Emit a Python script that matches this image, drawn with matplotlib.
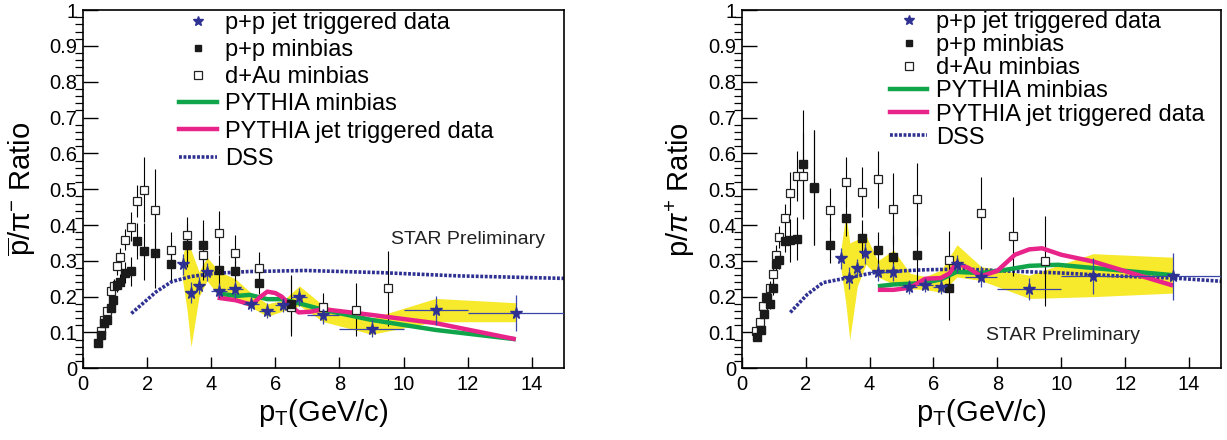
import matplotlib
matplotlib.use('Agg')
import matplotlib.pyplot as plt
from matplotlib.ticker import MultipleLocator, FuncFormatter

plt.rcParams['font.family'] = ['Liberation Sans', 'DejaVu Sans']
plt.rcParams['mathtext.fontset'] = 'custom'
plt.rcParams['mathtext.rm'] = 'Liberation Sans'
plt.rcParams['mathtext.it'] = 'Liberation Sans:italic'
plt.rcParams['mathtext.bf'] = 'Liberation Sans:bold'

# ---------------- left panel: pbar / pi- ----------------
pp_pt_l = [0.47, 0.56, 0.66, 0.75, 0.86, 0.95, 1.05, 1.15, 1.3, 1.5, 1.7, 1.9, 2.25, 2.75, 3.25, 3.75, 4.25, 4.75, 5.5, 6.5]
pp_y_l = [0.07, 0.094, 0.127, 0.135, 0.168, 0.19, 0.232, 0.242, 0.267, 0.271, 0.355, 0.327, 0.323, 0.292, 0.343, 0.343, 0.275, 0.273, 0.238, 0.18]
pp_e_l = [0.01, 0.01, 0.012, 0.012, 0.015, 0.015, 0.02, 0.02, 0.03, 0.04, 0.05, 0.08, 0.1, 0.045, 0.06, 0.07, 0.04, 0.03, 0.03, 0.08]

dau_pt_l = [0.55, 0.65, 0.75, 0.86, 0.96, 1.05, 1.15, 1.3, 1.5, 1.7, 1.9, 2.25, 2.75, 3.25, 3.75, 4.25, 4.75, 5.5, 6.5, 7.5, 8.5, 9.5]
dau_y_l = [0.103, 0.134, 0.16, 0.216, 0.23, 0.286, 0.312, 0.359, 0.395, 0.467, 0.499, 0.441, 0.33, 0.372, 0.316, 0.378, 0.322, 0.279, 0.17, 0.17, 0.164, 0.223]
dau_e_l = [0.01, 0.012, 0.015, 0.02, 0.02, 0.025, 0.025, 0.03, 0.04, 0.045, 0.09, 0.115, 0.05, 0.05, 0.07, 0.06, 0.05, 0.045, 0.08, 0.04, 0.075, 0.105]

jet_pt = [3.12, 3.37, 3.62, 3.87, 4.25, 4.75, 5.25, 5.75, 6.25, 6.75, 7.5, 9.0, 11.0, 13.5]
jet_xerr = [0.12, 0.12, 0.12, 0.12, 0.25, 0.25, 0.25, 0.25, 0.25, 0.25, 0.5, 1.0, 1.0, 1.5]
jet_y_l = [0.29, 0.211, 0.231, 0.27, 0.217, 0.22, 0.18, 0.161, 0.176, 0.198, 0.149, 0.111, 0.162, 0.155]
jet_e_l = [0.03, 0.03, 0.025, 0.025, 0.02, 0.025, 0.02, 0.02, 0.02, 0.025, 0.025, 0.025, 0.04, 0.05]

band_x_l = [3.1, 3.25, 3.37, 3.62, 3.87, 4.25, 4.75, 5.25, 5.75, 6.25, 6.75, 7.5, 9.0, 11.0, 13.5]
band_hi_l = [0.31, 0.36, 0.33, 0.27, 0.31, 0.27, 0.25, 0.21, 0.18, 0.19, 0.23, 0.175, 0.14, 0.195, 0.183]
band_lo_l = [0.25, 0.16, 0.06, 0.2, 0.245, 0.2, 0.19, 0.17, 0.145, 0.16, 0.175, 0.13, 0.095, 0.13, 0.13]

pyminb_x_l = [4.2, 4.8, 5.2, 5.75, 6.2, 6.8, 7.5, 9.0, 11.0, 13.5]
pyminb_y_l = [0.209, 0.202, 0.205, 0.193, 0.193, 0.18, 0.163, 0.135, 0.107, 0.081]

pyjet_x_l = [4.2, 4.76, 5.27, 5.5, 5.75, 6.0, 6.2, 6.5, 6.73, 7.1, 7.5, 9.0, 11.0, 13.5]
pyjet_y_l = [0.197, 0.19, 0.177, 0.197, 0.214, 0.21, 0.2, 0.172, 0.156, 0.158, 0.165, 0.149, 0.126, 0.081]

dss_x_l = [1.51, 2.29, 2.77, 3.36, 4.08, 5.15, 6.94, 9.3, 11.7, 15.0]
dss_y_l = [0.153, 0.214, 0.242, 0.256, 0.265, 0.27, 0.273, 0.267, 0.258, 0.251]

# ---------------- right panel: p / pi+ ----------------
pp_pt_r = [0.49, 0.59, 0.69, 0.79, 0.88, 0.98, 1.08, 1.18, 1.34, 1.52, 1.72, 1.92, 2.26, 2.76, 3.26, 3.77, 4.26, 4.75, 5.5, 6.5]
pp_y_r = [0.087, 0.108, 0.151, 0.195, 0.18, 0.225, 0.292, 0.302, 0.356, 0.357, 0.361, 0.57, 0.504, 0.345, 0.419, 0.364, 0.33, 0.311, 0.317, 0.225]
pp_e_r = [0.01, 0.01, 0.012, 0.015, 0.015, 0.02, 0.025, 0.025, 0.03, 0.06, 0.06, 0.15, 0.16, 0.05, 0.05, 0.05, 0.05, 0.06, 0.08, 0.09]

dau_pt_r = [0.45, 0.57, 0.66, 0.77, 0.87, 0.98, 1.08, 1.18, 1.34, 1.52, 1.72, 1.92, 2.26, 2.76, 3.26, 3.77, 4.26, 4.75, 5.5, 6.5, 7.49, 8.49, 9.5]
dau_y_r = [0.105, 0.128, 0.174, 0.2, 0.225, 0.263, 0.315, 0.367, 0.42, 0.488, 0.538, 0.538, 0.505, 0.442, 0.519, 0.493, 0.528, 0.445, 0.473, 0.303, 0.434, 0.369, 0.299]
dau_e_r = [0.01, 0.012, 0.015, 0.02, 0.02, 0.025, 0.03, 0.03, 0.04, 0.06, 0.07, 0.12, 0.16, 0.06, 0.07, 0.07, 0.08, 0.1, 0.1, 0.08, 0.1, 0.11, 0.125]

jet_y_r = [0.307, 0.252, 0.28, 0.321, 0.269, 0.268, 0.227, 0.233, 0.227, 0.292, 0.256, 0.222, 0.257, 0.257]
jet_e_r = [0.03, 0.03, 0.025, 0.03, 0.025, 0.025, 0.02, 0.02, 0.02, 0.025, 0.03, 0.03, 0.05, 0.065]

band_x_r = [3.1, 3.26, 3.38, 3.62, 3.89, 4.26, 4.75, 5.27, 5.75, 6.25, 6.74, 7.49, 9.0, 11.0, 13.5]
band_hi_r = [0.33, 0.43, 0.35, 0.36, 0.37, 0.30, 0.33, 0.265, 0.256, 0.275, 0.345, 0.284, 0.26, 0.32, 0.31]
band_lo_r = [0.28, 0.18, 0.08, 0.23, 0.29, 0.255, 0.235, 0.222, 0.22, 0.212, 0.255, 0.245, 0.195, 0.2, 0.21]

pyminb_x_r = [4.26, 4.75, 5.25, 5.74, 6.23, 6.72, 7.49, 8.2, 9.0, 9.9, 11.0, 13.5]
pyminb_y_r = [0.229, 0.234, 0.236, 0.239, 0.248, 0.269, 0.266, 0.274, 0.286, 0.289, 0.28, 0.26]

pyjet_x_r = [4.26, 4.75, 5.27, 5.74, 6.23, 6.5, 6.72, 7.1, 7.49, 8.0, 8.55, 9.0, 9.4, 10.0, 11.0, 13.5]
pyjet_y_r = [0.219, 0.219, 0.225, 0.25, 0.252, 0.265, 0.294, 0.28, 0.257, 0.272, 0.317, 0.332, 0.335, 0.317, 0.298, 0.231]

dss_x_r = [1.52, 2.05, 2.54, 3.28, 4.26, 5.74, 6.97, 8.2, 10.0, 11.9, 13.5, 15.0]
dss_y_r = [0.156, 0.206, 0.239, 0.252, 0.269, 0.275, 0.277, 0.272, 0.266, 0.257, 0.252, 0.243]

labels = ['p+p jet triggered data', 'p+p minbias', 'd+Au minbias',
          'PYTHIA minbias', 'PYTHIA jet triggered data', 'DSS']

YELLOW = '#f7e92b'
GREEN = '#10a54a'
PINK = '#e8238a'
BLUE = '#2e3192'


def draw_panel(ax, d, ylabel, legend_anchor, spacing, star_pos):
    ax.fill_between(d['bx'], d['blo'], d['bhi'], color=YELLOW, lw=0, zorder=1)
    ax.plot(d['dssx'], d['dssy'], color=BLUE, lw=2.6, ls=(0, (0.8, 0.45)), zorder=2)
    ax.errorbar(d['ppx'], d['ppy'], yerr=d['ppe'], fmt='none', ecolor='black', elinewidth=0.8, zorder=3)
    ax.errorbar(d['dx'], d['dy'], yerr=d['de'], fmt='none', ecolor='black', elinewidth=0.8, zorder=3)
    ax.plot(d['gx'], d['gy'], color=GREEN, lw=3.2, zorder=4, solid_capstyle='butt')
    ax.plot(d['px'], d['py'], color=PINK, lw=3.2, zorder=4.5, solid_capstyle='butt')
    ax.errorbar(jet_pt, d['jy'], xerr=jet_xerr, yerr=d['je'], fmt='none', ecolor='#3a45a8', elinewidth=0.9, zorder=5)
    h1, = ax.plot(jet_pt, d['jy'], ls='none', marker='*', ms=8.5, color=BLUE, mec=BLUE, zorder=6)
    h2, = ax.plot(d['ppx'], d['ppy'], ls='none', marker='s', ms=5.5, color='#1a1a1a', zorder=5.5)
    h3, = ax.plot(d['dx'], d['dy'], ls='none', marker='s', ms=6, mfc='white', mec='#222222', mew=0.9, zorder=5.2)
    hg, = ax.plot([], [], color=GREEN, lw=3.2)
    hp, = ax.plot([], [], color=PINK, lw=3.2)
    hd, = ax.plot([], [], color=BLUE, lw=2.6, ls=(0, (0.8, 0.45)))

    ax.set_xlim(0, 15)
    ax.set_ylim(0, 1)
    ax.xaxis.set_major_locator(MultipleLocator(2))
    ax.yaxis.set_major_locator(MultipleLocator(0.1))
    ax.yaxis.set_minor_locator(MultipleLocator(0.02))
    ax.yaxis.set_major_formatter(FuncFormatter(lambda v, p: '%g' % round(v, 1)))
    ax.tick_params(axis='both', direction='in', labelsize=14.5, width=1.0)
    ax.tick_params(axis='y', which='major', length=11, pad=4)
    ax.tick_params(axis='y', which='minor', length=6, width=0.9)
    ax.tick_params(axis='x', which='major', length=8, pad=5)
    for s in ax.spines.values():
        s.set_linewidth(1.2)
    ax.set_xlabel(r'p$_{\rm T}$(GeV/c)', fontsize=21, labelpad=2)
    ax.set_ylabel(ylabel, fontsize=21, labelpad=8)

    ax.legend([h1, h2, h3, hg, hp, hd], labels, loc='upper left',
              bbox_to_anchor=legend_anchor, bbox_transform=ax.transData,
              frameon=False, fontsize=17, handlelength=1.6, handletextpad=0.35,
              labelspacing=spacing, borderpad=0, borderaxespad=0, markerscale=0.9)
    ax.text(star_pos[0], star_pos[1], 'STAR Preliminary', fontsize=14, ha='left', va='center', color='#222222')


fig = plt.figure(figsize=(12.27, 4.4), dpi=100)
axl = fig.add_axes([0.0676, 0.163, 0.392, 0.814])
axr = fig.add_axes([0.6045, 0.163, 0.3906, 0.814])

left = dict(bx=band_x_l, bhi=band_hi_l, blo=band_lo_l, dssx=dss_x_l, dssy=dss_y_l,
            ppx=pp_pt_l, ppy=pp_y_l, ppe=pp_e_l, dx=dau_pt_l, dy=dau_y_l, de=dau_e_l,
            gx=pyminb_x_l, gy=pyminb_y_l, px=pyjet_x_l, py=pyjet_y_l, jy=jet_y_l, je=jet_e_l)
right = dict(bx=band_x_r, bhi=band_hi_r, blo=band_lo_r, dssx=dss_x_r, dssy=dss_y_r,
             ppx=pp_pt_r, ppy=pp_y_r, ppe=pp_e_r, dx=dau_pt_r, dy=dau_y_r, de=dau_e_r,
             gx=pyminb_x_r, gy=pyminb_y_r, px=pyjet_x_r, py=pyjet_y_r, jy=jet_y_r, je=jet_e_r)

draw_panel(axl, left, r'$\overline{\rm p}/\pi^{-}$ Ratio', (3.0, 0.995), 0.22, (9.6, 0.36))
draw_panel(axr, right, r'p/$\pi^{+}$ Ratio', (4.63, 0.998), 0.05, (7.64, 0.092))

fig.savefig('out.png', dpi=100)
